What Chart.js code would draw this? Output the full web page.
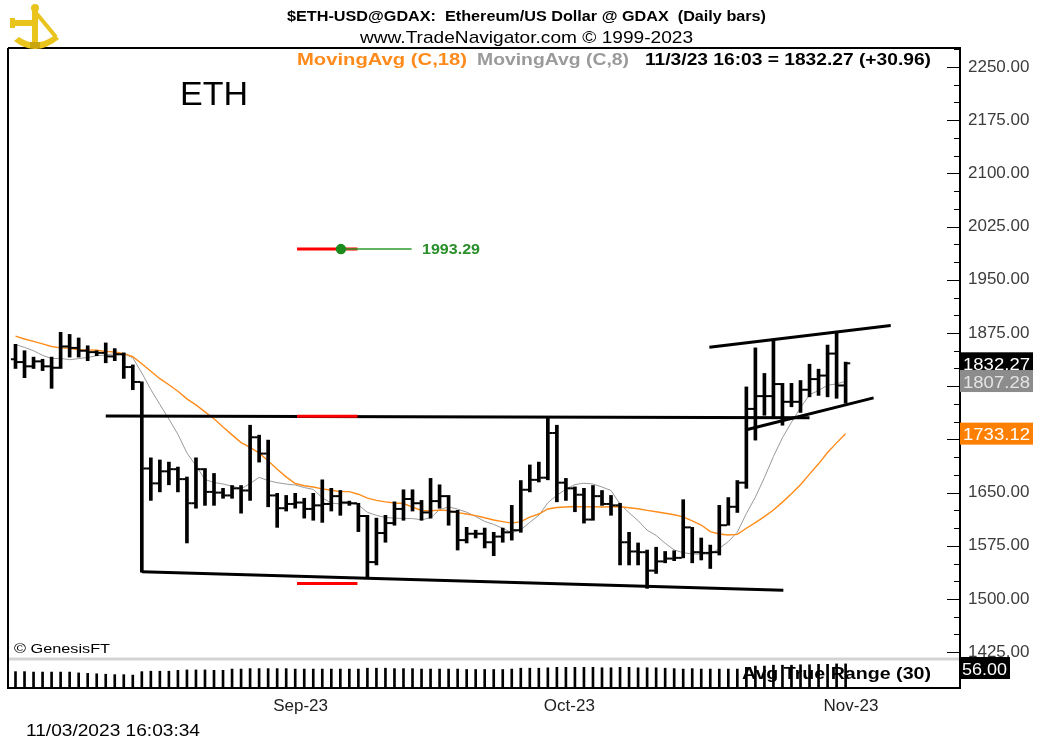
<!DOCTYPE html>
<html>
<head>
<meta charset="utf-8">
<title>$ETH-USD@GDAX Daily bars</title>
<script src="https://cdn.jsdelivr.net/npm/chart.js@4.4.1/dist/chart.umd.min.js"></script>
<style>
  html, body { margin: 0; padding: 0; background: #fff; }
  #chart { display: block; }
</style>
</head>
<body>
<canvas id="chart" width="1042" height="738"></canvas>
<script>
// daily bars, index 0 = 3 Aug 2023 ... index 92 = 3 Nov 2023
const opens = [1838, 1834, 1828, 1835, 1828, 1826, 1856, 1854, 1850, 1848, 1847, 1842, 1845, 1827, 1806,
  1684, 1663, 1680, 1683, 1669, 1635, 1683, 1651, 1650, 1646, 1656, 1653, 1728, 1705,
  1646, 1628, 1634, 1636, 1627, 1632, 1634, 1645, 1636, 1635, 1617, 1552, 1593, 1607, 1627,
  1641, 1635, 1622, 1638, 1645, 1623, 1583, 1592, 1592, 1580, 1588, 1594, 1597, 1654, 1668,
  1671, 1734, 1664, 1656, 1647, 1612, 1645, 1634, 1632, 1580, 1567, 1566, 1540, 1553, 1557,
  1558, 1601, 1566, 1565, 1566, 1604, 1630, 1664, 1768, 1786, 1786, 1803, 1778, 1778, 1795, 1810,
  1815, 1846, 1801];
const highs = [1859, 1850, 1841, 1838, 1841, 1876, 1873, 1868, 1857, 1850, 1861, 1853, 1847, 1830, 1806,
  1699, 1696, 1693, 1686, 1672, 1699, 1684, 1677, 1656, 1660, 1660, 1745, 1731, 1724,
  1649, 1646, 1649, 1642, 1649, 1668, 1656, 1653, 1638, 1635, 1618, 1614, 1618, 1637, 1654,
  1654, 1639, 1670, 1661, 1646, 1625, 1601, 1597, 1600, 1594, 1600, 1632, 1667, 1689, 1693,
  1755, 1745, 1670, 1658, 1656, 1660, 1653, 1646, 1635, 1594, 1579, 1569, 1573, 1567, 1568,
  1640, 1601, 1586, 1576, 1632, 1643, 1667, 1799, 1854, 1818, 1865, 1804, 1804, 1808, 1831, 1824,
  1858, 1875, 1834];
const lows = [1825, 1812, 1825, 1822, 1797, 1825, 1841, 1841, 1836, 1843, 1833, 1836, 1811, 1795, 1538,
  1639, 1651, 1661, 1651, 1579, 1628, 1632, 1632, 1642, 1642, 1621, 1639, 1693, 1630,
  1601, 1624, 1628, 1614, 1611, 1608, 1624, 1618, 1632, 1595, 1531, 1548, 1580, 1604, 1611,
  1624, 1611, 1614, 1628, 1604, 1569, 1579, 1586, 1572, 1561, 1580, 1583, 1594, 1651, 1665,
  1668, 1637, 1639, 1623, 1607, 1611, 1632, 1618, 1548, 1548, 1548, 1515, 1536, 1551, 1554,
  1558, 1551, 1555, 1543, 1562, 1604, 1622, 1656, 1724, 1759, 1756, 1745, 1771, 1763, 1785, 1787,
  1785, 1783, 1776];
const closes = [1834, 1828, 1835, 1828, 1826, 1856, 1854, 1850, 1848, 1847, 1842, 1845, 1827, 1806, 1684,
  1663, 1680, 1683, 1669, 1635, 1683, 1651, 1650, 1646, 1656, 1653, 1728, 1705, 1646,
  1628, 1634, 1636, 1627, 1632, 1634, 1645, 1636, 1635, 1617, 1552, 1593, 1607, 1627, 1641,
  1635, 1622, 1638, 1645, 1623, 1583, 1592, 1592, 1580, 1588, 1594, 1597, 1654, 1668, 1671,
  1734, 1664, 1656, 1647, 1612, 1645, 1634, 1632, 1580, 1567, 1566, 1540, 1553, 1557, 1558,
  1601, 1566, 1565, 1566, 1604, 1630, 1664, 1768, 1786, 1786, 1803, 1778, 1778, 1795, 1810, 1815,
  1846, 1801, 1832.27];
// closes before the first visible bar (17 Jul - 2 Aug), only used to start the averages
const priorCloses = [1900, 1896, 1891, 1891, 1892, 1862, 1890, 1849, 1858, 1870, 1860, 1873, 1880, 1862, 1855, 1868, 1838];
// Avg True Range (30), lower pane
const atrValues = [38, 38, 37, 37, 37, 37, 37, 35, 34, 33, 32, 31, 31, 30,
  38, 39, 39, 39, 41, 42, 42, 42, 41, 41, 44, 44, 45, 45, 45,
  45, 45, 44, 44, 44, 44, 44, 44, 44, 44, 46, 46, 46, 45, 45, 45, 44, 44, 44, 44, 44, 43, 43, 43, 43, 43, 44, 46, 46, 46,
  47, 48, 48, 48, 48, 48, 47, 47, 48, 48, 47, 47, 47, 46, 45, 44, 45, 44, 44, 44, 44, 44, 48, 51, 51, 53, 53, 53, 54, 54, 55,
  55, 56, 56];

const monthStarts = [29, 59, 90];
const monthLabels = ['Sep-23', 'Oct-23', 'Nov-23'];
const priceTicks = [1425, 1500, 1575, 1650, 1725, 1800, 1875, 1950, 2025, 2100, 2175, 2250];

// drawn lines: [dayIndex, price] pairs
const resistanceLine = [[10, 1758], [88, 1755.5]];
const supportLine = [[14, 1538.5], [85.1, 1512.5]];
const channelTop = [[76.9, 1855], [97, 1885.5]];
const channelBottom = [[81.1, 1739], [95.1, 1783.5]];
const moveLevels = [1757.6, 1521.9, 1993.29];
const moveSpan = [31.2, 37.9];
const targetSpan = [36.07, 43.9];

const lastTags = [
  { text: '1832.27', value: 1832.27, bg: '#000000', fg: '#ffffff' },
  { text: '1807.28', value: 1807.28, bg: '#8c8c8c', fg: '#e4e4e4' },
  { text: '1733.12', value: 1733.12, bg: '#ff8000', fg: '#ffffff' }
];

const FONT = '"Liberation Sans", Arial, sans-serif';

function movingAvg(n) {
  const all = priorCloses.concat(closes);
  const off = priorCloses.length;
  return closes.map((c, i) => {
    let s = 0;
    for (let k = off + i - n + 1; k <= off + i; k++) s += all[k];
    return { x: i, y: s / n };
  });
}

function pts(pairs) {
  return pairs.map(p => ({ x: p[0], y: p[1] }));
}

function lineSet(data, color, width, order) {
  return {
    type: 'line', data, borderColor: color, borderWidth: width,
    pointRadius: 0, fill: false, tension: 0, order
  };
}

// text stretched to the width it has on the reference
function fitText(ctx, text, x, y, font, color, width) {
  ctx.save();
  ctx.font = font;
  ctx.fillStyle = color;
  ctx.textAlign = 'left';
  ctx.textBaseline = 'alphabetic';
  const w = ctx.measureText(text).width;
  ctx.translate(x, y);
  if (width) ctx.scale(width / w, 1);
  ctx.fillText(text, 0, 0);
  ctx.restore();
}

function drawLogo(ctx) {
  ctx.save();
  ctx.fillStyle = '#e9c41c';
  ctx.strokeStyle = '#e9c41c';
  ctx.beginPath();
  ctx.moveTo(14, 41);
  ctx.quadraticCurveTo(36, 58, 59, 39);
  ctx.lineTo(55, 35);
  ctx.quadraticCurveTo(36, 49, 19, 37);
  ctx.closePath();
  ctx.fill();
  ctx.fillRect(32, 9, 6, 34);
  ctx.beginPath();
  ctx.arc(35, 8, 4, 0, Math.PI * 2);
  ctx.fill();
  ctx.fillRect(12, 20, 22, 6);
  ctx.fillRect(10, 18, 5, 10);
  ctx.lineWidth = 4;
  ctx.beginPath();
  ctx.moveTo(37, 14);
  ctx.lineTo(56, 37);
  ctx.stroke();
  ctx.fillStyle = '#c9a40c';
  ctx.fillRect(30, 42, 10, 6);
  ctx.restore();
}

const framePlugin = {
  id: 'frame',
  beforeDraw(chart) {
    const ctx = chart.ctx;
    ctx.save();
    ctx.fillStyle = '#ffffff';
    ctx.fillRect(0, 0, chart.width, chart.height);
    ctx.restore();
  },
  afterDraw(chart) {
    const ctx = chart.ctx;
    const area = chart.chartArea;
    const y = chart.scales.y;
    const atr = chart.scales.atr;

    ctx.save();
    // frame
    ctx.strokeStyle = '#000';
    ctx.lineWidth = 2;
    ctx.beginPath();
    ctx.moveTo(area.left, area.top);
    ctx.lineTo(area.right, area.top);
    ctx.moveTo(area.left, area.top);
    ctx.lineTo(area.left, area.bottom);
    ctx.stroke();
    // pane separator
    ctx.strokeStyle = '#d4d4d4';
    ctx.lineWidth = 3;
    ctx.beginPath();
    ctx.moveTo(area.left + 1, y.bottom + 2);
    ctx.lineTo(area.right - 1, y.bottom + 2);
    ctx.stroke();
    // price ticks inside the axis line
    ctx.strokeStyle = '#000';
    ctx.lineWidth = 1;
    for (let v = 1425; v <= 2275; v += 25) {
      const py = Math.round(y.getPixelForValue(v)) + 0.5;
      const len = (v - 1425) % 75 === 0 ? 13 : 6;
      ctx.beginPath();
      ctx.moveTo(area.right - len, py);
      ctx.lineTo(area.right, py);
      ctx.stroke();
    }
    ctx.restore();

    // value tags
    lastTags.forEach(t => {
      const py = y.getPixelForValue(t.value);
      ctx.fillStyle = t.bg;
      ctx.fillRect(area.right, py - 11, 73, 22);
      fitText(ctx, t.text, area.right + 3, py + 6.5, '17px ' + FONT, t.fg, 67);
    });
    const atrPy = Math.max(atr.top + 11, atr.getPixelForValue(atrValues[atrValues.length - 1]));
    ctx.fillStyle = '#000';
    ctx.fillRect(area.right, atrPy - 11, 50, 22);
    fitText(ctx, '56.00', area.right + 2, atrPy + 6.5, '17px ' + FONT, '#fff', 45);

    // headings and notes
    fitText(ctx, '$ETH-USD@GDAX:  Ethereum/US Dollar @ GDAX  (Daily bars)', 287, 21, 'bold 14px ' + FONT, '#000', 479);
    fitText(ctx, 'www.TradeNavigator.com \u00a9 1999-2023', 360, 43, '17px ' + FONT, '#000', 333);
    fitText(ctx, 'MovingAvg (C,18)', 297, 65, 'bold 17px ' + FONT, '#ff8a1c', 170);
    fitText(ctx, 'MovingAvg (C,8)', 477, 65, 'bold 17px ' + FONT, '#9a9a9a', 152);
    fitText(ctx, '11/3/23 16:03 = 1832.27 (+30.96)', 645, 65, 'bold 17px ' + FONT, '#000', 286);
    fitText(ctx, 'ETH', 180, 105, '34px ' + FONT, '#000', 68);
    fitText(ctx, '1993.29', 422, 254, 'bold 14px ' + FONT, '#2a8f2a', 58);
    fitText(ctx, '\u00a9 GenesisFT', 14, 653, '13px ' + FONT, '#000', 96);
    fitText(ctx, 'Avg True Range (30)', 742, 679, 'bold 16px ' + FONT, '#000', 189);
    fitText(ctx, '11/03/2023 16:03:34', 26, 736, '17px ' + FONT, '#000', 174);

    drawLogo(ctx);
  }
};

const pxPerDay = 9.023;
const xMin = -(15.5 - 8) / pxPerDay;
const xMax = xMin + 952 / pxPerDay;
const pxPerUnit = 532 / 750;
const yMax = 2250 + (67 - 48) / pxPerUnit;
const yMin = 1500 - (657 - 599) / pxPerUnit;
const tickShift = 3 / pxPerDay;

const datasets = [
  {
    type: 'bar', label: 'High-Low',
    data: highs.map((h, i) => ({ x: i, y: [lows[i], h] })),
    backgroundColor: '#000', barThickness: 3, grouped: false, yAxisID: 'y', order: 1
  },
  {
    type: 'line', label: 'Open', showLine: false,
    data: opens.map((o, i) => ({ x: i - tickShift, y: o })),
    pointStyle: 'line', pointRadius: 1.6, pointBorderWidth: 2, pointBorderColor: '#000', yAxisID: 'y', order: 1
  },
  {
    type: 'line', label: 'Close', showLine: false,
    data: closes.map((c, i) => ({ x: i + tickShift, y: c })),
    pointStyle: 'line', pointRadius: 1.6, pointBorderWidth: 2, pointBorderColor: '#000', yAxisID: 'y', order: 1
  },
  Object.assign(lineSet(movingAvg(18), '#ff8c1a', 1.4, 3), { label: 'MovingAvg (C,18)', yAxisID: 'y' }),
  Object.assign(lineSet(movingAvg(8), '#9a9a9a', 1, 3), { label: 'MovingAvg (C,8)', yAxisID: 'y' }),
  lineSet(pts(resistanceLine), '#000', 3, 2),
  lineSet(pts(supportLine), '#000', 3, 2),
  lineSet(pts(channelTop), '#000', 3, 2),
  lineSet(pts(channelBottom), '#000', 3, 2),
  ...moveLevels.map(v => lineSet([{ x: moveSpan[0], y: v }, { x: moveSpan[1], y: v }], '#ff0000', 3, 0)),
  {
    type: 'line', label: 'Target',
    data: [{ x: targetSpan[0], y: moveLevels[2] }, { x: targetSpan[1], y: moveLevels[2] }],
    borderColor: '#2e9a2e', borderWidth: 1.5, tension: 0,
    pointRadius: ctx => ctx.dataIndex === 0 ? 4.5 : 0,
    pointBackgroundColor: '#1d8a1d', pointBorderColor: '#1d8a1d', order: -1
  },
  {
    type: 'bar', label: 'Avg True Range (30)',
    data: atrValues.map((v, i) => ({ x: i, y: v })),
    backgroundColor: '#000', barThickness: 2, grouped: false, yAxisID: 'atr', order: 1
  }
];

new Chart(document.getElementById('chart'), {
  data: { datasets },
  options: {
    responsive: false,
    animation: false,
    events: [],
    layout: { padding: { left: 8, top: 48, right: 0, bottom: 0 } },
    plugins: {
      legend: { display: false },
      tooltip: { enabled: false }
    },
    scales: {
      x: {
        type: 'linear', min: xMin, max: xMax, offset: false,
        grid: { display: false, drawTicks: false },
        border: { display: true, color: '#000', width: 2 },
        afterBuildTicks: s => { s.ticks = monthStarts.map(v => ({ value: v })); },
        afterFit: s => { s.height = 50; },
        ticks: {
          autoSkip: false, maxRotation: 0, align: 'start', labelOffset: -4, padding: 8,
          callback: (v, i) => monthLabels[i],
          font: { family: FONT, size: 17 }, color: '#222'
        }
      },
      y: {
        type: 'linear', position: 'right', stack: 'panes', stackWeight: 609,
        min: yMin, max: yMax,
        grid: { display: false, drawTicks: false },
        border: { display: true, color: '#000', width: 2 },
        afterBuildTicks: s => { s.ticks = priceTicks.map(v => ({ value: v })); },
        afterFit: s => { s.width = 82; },
        ticks: {
          autoSkip: false, padding: 8,
          callback: v => Number(v).toFixed(2),
          font: { family: FONT, size: 17 }, color: '#3c3c3c'
        }
      },
      atr: {
        type: 'linear', position: 'right', stack: 'panes', stackWeight: 31,
        min: 0, max: 72,
        grid: { display: false, drawTicks: false },
        border: { display: true, color: '#000', width: 2 },
        ticks: { display: false },
        afterFit: s => { s.width = 82; }
      }
    }
  },
  plugins: [framePlugin]
});
</script>
</body>
</html>
